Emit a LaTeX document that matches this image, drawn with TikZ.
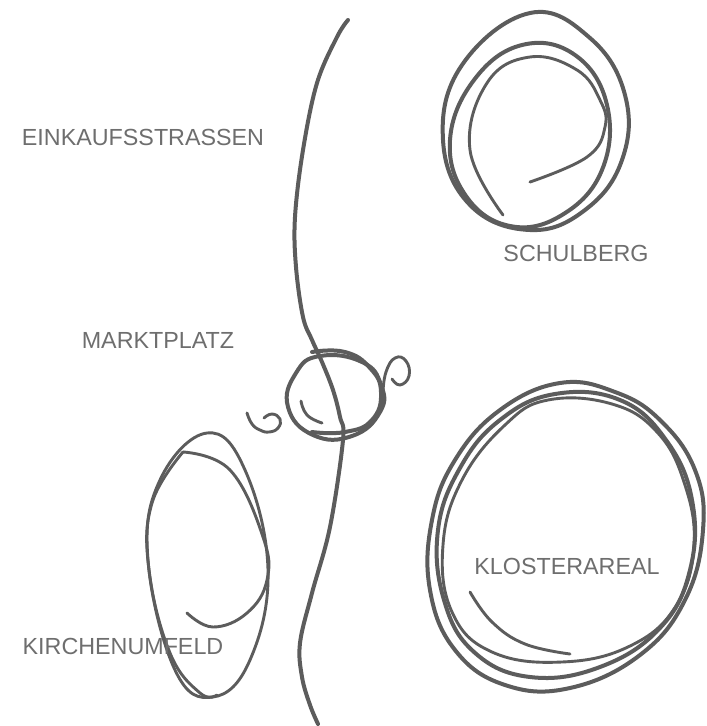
\documentclass[tikz,border=0pt]{standalone}
\usepackage{fontspec}
\setmainfont{Liberation Sans}
\usepackage{xcolor}
\usepackage{tikz}
\usetikzlibrary{positioning}
\definecolor{cstift}{HTML}{5C5C5C}
\definecolor{ctext}{HTML}{6E6E6E}
\tikzset{
  strich/.style={draw=cstift, line width=4pt, line cap=round, line join=round},
  duenn/.style={draw=cstift, line width=2.9pt, line cap=round, line join=round},
  beschrift/.style={font=\fontsize{23.3}{27}\selectfont, text=ctext, inner sep=0pt},
}

\begin{document}
\begin{tikzpicture}[x=1pt, y=-1pt]
  \useasboundingbox[fill=white] (0,0) rectangle (707,726);
  % Strasse
  \draw[strich] plot[smooth, tension=0.6] coordinates {(348,20) (337,37) (317,83) (303,150) (295,217) (296,267) (303,317) (312,340) (322,362) (333,390) (340,417) (343,440) (330,527) (312,593) (300,643) (302,677) (310,705) (318,724)};
  % Schulberg
  \draw[strich] plot[smooth cycle, tension=0.7] coordinates {(530,13) (590,38) (625,95) (622,160) (585,210) (530,230) (470,205) (443,140) (462,65)};
  \draw[strich] plot[smooth cycle, tension=0.7] coordinates {(522,45) (575,55) (607,105) (602,170) (562,215) (510,226) (466,196) (450,140) (474,80)};
  \draw[duenn] plot[smooth, tension=0.7] coordinates {(503,215) (470,150) (487,83) (530,57) (577,70) (600,100) (605,127) (587,157) (530,182)};
  % Marktplatz
  \draw[strich] plot[smooth cycle, tension=0.8] coordinates {(320,356) (362,362) (381,385) (380,412) (352,436) (313,435) (288,407) (296,373)};
  \draw[strich] plot[smooth, tension=0.8] coordinates {(312,352) (345,352) (370,368) (381,392) (372,420) (345,432) (312,432)};
  \draw[duenn] plot[smooth, tension=0.8] coordinates {(301,401) (307,415) (322,423)};
  \draw[duenn] plot[smooth, tension=0.8] coordinates {(247,413) (252,424) (260,430) (269,432) (278,428) (280,419) (272,414) (264,418)};
  \draw[duenn] plot[smooth, tension=0.8] coordinates {(383,392) (386,372) (395,358) (406,361) (409,376) (400,385) (392,379)};
  % Kirchenumfeld
  \draw[duenn] plot[smooth cycle, tension=0.7] coordinates {(207,433) (245,470) (268,570) (250,660) (213,697) (175,670) (148,560) (160,480)};
  \draw[duenn] plot[smooth, tension=0.7] coordinates {(183,452) (230,470) (263,537) (267,580) (247,613) (213,627) (187,613)};
  \draw[duenn] plot[smooth, tension=0.7] coordinates {(183,452) (152,503) (149,570) (170,653) (200,693) (217,695)};
  % Klosterareal
  \draw[strich] plot[smooth cycle, tension=0.7] coordinates {(560,383) (615,392) (660,420) (695,470) (703,530) (685,600) (640,655) (570,688) (505,685) (455,650) (430,590) (432,520) (455,460) (500,410)};
  \draw[strich] plot[smooth cycle, tension=0.7] coordinates {(555,394) (620,400) (666,440) (692,500) (690,570) (660,628) (600,667) (530,677) (474,652) (444,600) (438,530) (460,468) (500,420)};
  \draw[duenn] plot[smooth cycle, tension=0.7] coordinates {(548,400) (612,404) (657,432) (684,482) (694,545) (676,606) (630,646) (562,662) (492,652) (452,612) (443,545) (462,480) (505,425)};
  \draw[duenn] plot[smooth, tension=0.7] coordinates {(470,592) (492,622) (525,644) (570,654)};
  % Beschriftung
  \node[beschrift] (einkauf) at (143,137) {EINKAUFSSTRASSEN};
  \node[beschrift] (schul) at (576,253) {SCHULBERG};
  \node[beschrift] (markt) at (158,340) {MARKTPLATZ};
  \node[beschrift] (kloster) at (567,566) {KLOSTERAREAL};
  \node[beschrift] (kirche) at (123,646) {KIRCHENUMFELD};
\end{tikzpicture}
\end{document}
